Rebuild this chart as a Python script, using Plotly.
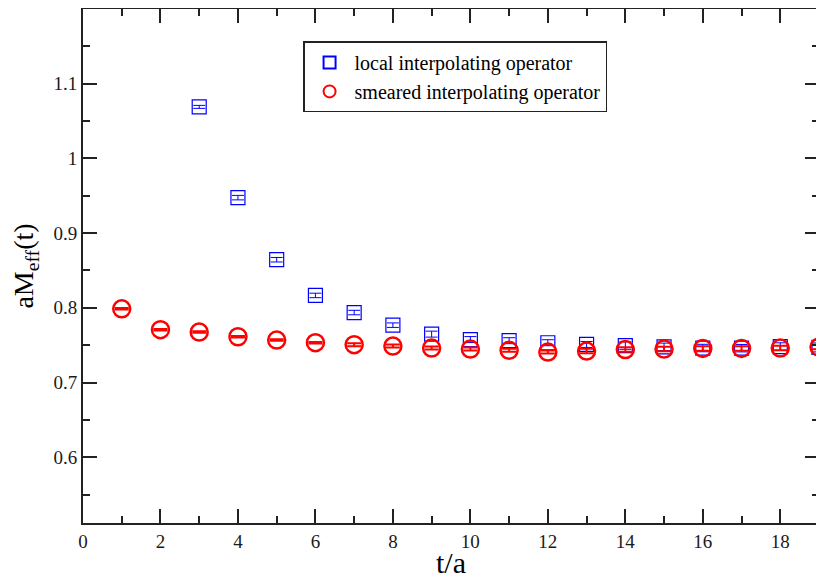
import plotly.graph_objects as go

# Local interpolating operator (squares)
t_local = [3, 4, 5, 6, 7, 8, 9, 10, 11, 12, 13, 14, 15, 16, 17, 18, 19]
m_local = [1.069, 0.9475, 0.8644, 0.8166, 0.7937, 0.7768, 0.7648, 0.7575, 0.7560, 0.7533,
           0.7510, 0.7495, 0.7478, 0.7462, 0.7460, 0.7482, 0.7470]
e_local = [0.002, 0.003, 0.003, 0.003, 0.003, 0.003, 0.004, 0.004, 0.004, 0.004,
           0.004, 0.005, 0.005, 0.005, 0.005, 0.005, 0.006]

# Smeared interpolating operator (circles)
t_smear = [1, 2, 3, 4, 5, 6, 7, 8, 9, 10, 11, 12, 13, 14, 15, 16, 17, 18, 19]
m_smear = [0.7987, 0.7707, 0.7675, 0.7613, 0.7568, 0.7533, 0.7507, 0.7488, 0.7461, 0.7448,
           0.7431, 0.7408, 0.7421, 0.7441, 0.7448, 0.7457, 0.7457, 0.7461, 0.7475]
e_smear = [0.001, 0.001, 0.001, 0.001, 0.001, 0.001, 0.002, 0.002, 0.002, 0.002,
           0.002, 0.002, 0.003, 0.003, 0.003, 0.003, 0.003, 0.003, 0.003]

xtick_vals = [0, 2, 4, 6, 8, 10, 12, 14, 16, 18]
xtick_text = ["0", "2", "4", "6", "8", "10", "12", "14", "16", "18"]
ytick_vals = [0.6, 0.7, 0.8, 0.9, 1.0, 1.1]
ytick_text = ["0.6", "0.7", "0.8", "0.9", "1", "1.1"]

FONT = "Liberation Serif"

fig = go.Figure()
fig.add_trace(go.Scatter(
    x=t_local, y=m_local, mode="markers", name="local interpolating operator",
    marker=dict(symbol="square-open", size=14, color="#0000ff", line=dict(width=1.2)),
    error_y=dict(type="data", array=e_local, visible=True, color="#0000ff",
                 thickness=1, width=6),
))
fig.add_trace(go.Scatter(
    x=t_smear, y=m_smear, mode="markers", name="smeared interpolating operator",
    marker=dict(symbol="circle-open", size=17, color="#ff0000", line=dict(width=2.5)),
    error_y=dict(type="data", array=e_smear, visible=True, color="#ff0000",
                 thickness=2, width=7),
))

axis_common = dict(
    showline=True, linecolor="#222222", linewidth=2, mirror="allticks",
    ticks="inside", ticklen=14, tickwidth=1.5, tickcolor="#222222",
    showgrid=False, zeroline=False, automargin=False,
    tickfont=dict(family=FONT, size=19, color="#1a1a1a"),
)

fig.update_xaxes(
    range=[0, 19], tickmode="array", tickvals=xtick_vals, ticktext=xtick_text,
    minor=dict(ticks="inside", ticklen=7, dtick=1, tick0=0, tickcolor="#222222", tickwidth=1.5),
    title=dict(text="t/a", font=dict(family=FONT, size=30, color="#000000"), standoff=0),
    **axis_common,
)
fig.update_yaxes(
    range=[0.512, 1.2], tickmode="array", tickvals=ytick_vals, ticktext=ytick_text,
    minor=dict(ticks="inside", ticklen=7, dtick=0.05, tick0=0.5, tickcolor="#222222", tickwidth=1.5),
    title=dict(text="aM<sub>eff</sub>(t)", font=dict(family=FONT, size=28, color="#000000"), standoff=18),
    **axis_common,
)

# The page adds an 8 px body margin, so the figure is sized 8 px smaller.
fig.update_layout(
    width=816, height=571,
    margin=dict(l=75, r=5, t=1, b=56),
    plot_bgcolor="white", paper_bgcolor="white",
    showlegend=True,
    legend=dict(
        x=0.299, y=0.937, xanchor="left", yanchor="top",
        bgcolor="white", bordercolor="#222222", borderwidth=1.5,
        font=dict(family=FONT, size=20, color="#000000"),
        tracegroupgap=0, itemsizing="constant", itemwidth=40,
    ),
)

fig.write_html("out.html")
